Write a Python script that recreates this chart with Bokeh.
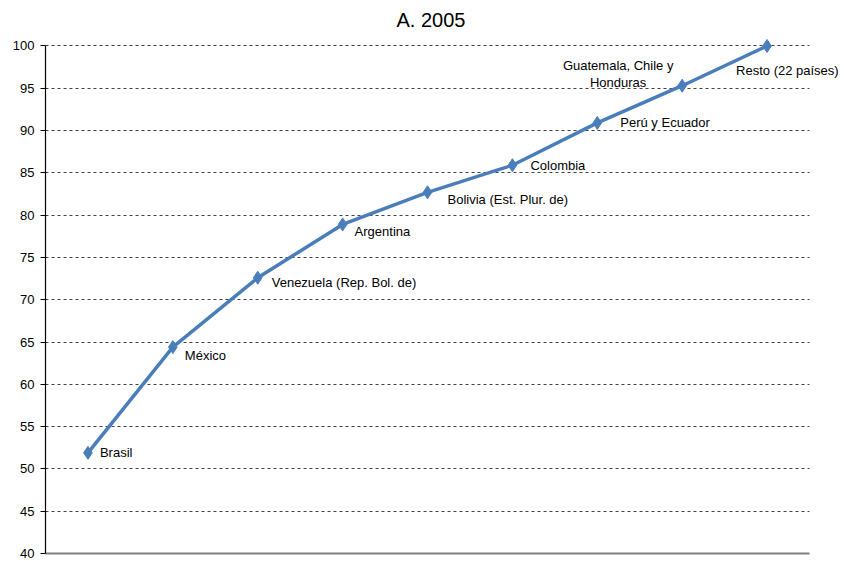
from bokeh.plotting import figure
from bokeh.models import ColumnDataSource, Label, Range1d, FixedTicker, SingleIntervalTicker
from bokeh.embed import file_html
from bokeh.resources import INLINE

countries = ["Brasil", "México", "Venezuela (Rep. Bol. de)", "Argentina",
             "Bolivia (Est. Plur. de)", "Colombia", "Perú y Ecuador",
             "Guatemala, Chile y\nHonduras", "Resto (22 países)"]
cumulative = [51.9, 64.4, 72.6, 78.9, 82.7, 85.9, 90.9, 95.3, 100.0]

# label styling (screen offsets)
lab_dx = [12, 12, 14, 12, 20, 18, 23, -64, -31]
lab_dy = [0, -8, -5, -7, -7, 0, 0, 12, -25]
lab_align = ["left"] * 7 + ["center", "left"]

FONT = "Liberation Sans"
LINE = "#4a7ebb"

n = len(countries)
xpos = [i + 0.5 for i in range(n)]
src = ColumnDataSource(dict(x=xpos, y=cumulative))

p = figure(width=844, height=561, output_backend="svg", toolbar_location=None,
           x_range=Range1d(0, n + 0.365),
           y_range=Range1d(40, 101),
           title="A. 2005", min_border_left=45, min_border_right=4,
           min_border_top=10, min_border_bottom=8)
p.outline_line_color = None
p.background_fill_color = "white"
p.border_fill_color = "white"

p.title.align = "left"
p.title.offset = 351
p.title.text_font = FONT
p.title.text_font_size = "20px"
p.title.text_font_style = "normal"
p.title.text_color = "#000000"
p.title.standoff = 13

p.line("x", "y", source=src, line_color=LINE, line_width=3.5)
p.scatter("x", "y", source=src, marker="diamond", size=13,
          fill_color=LINE, line_color=LINE)

for xv, yv, txt, dx, dy, al in zip(xpos, cumulative, countries, lab_dx, lab_dy, lab_align):
    p.add_layout(Label(x=xv, y=yv, text=txt, x_offset=dx, y_offset=dy,
                       text_align=al, text_baseline="middle", text_font=FONT,
                       text_font_size="13px", text_color="#000000",
                       text_line_height=1.15))

p.yaxis.ticker = SingleIntervalTicker(interval=5)
p.yaxis.bounds = (40, 100)
p.yaxis.axis_line_color = "#000000"
p.yaxis.axis_line_width = 1.2
p.yaxis.major_tick_out = 5
p.yaxis.major_tick_in = 0
p.yaxis.minor_tick_line_color = None
p.yaxis.major_tick_line_color = "#000000"
p.yaxis.major_label_text_font = FONT
p.yaxis.major_label_text_font_size = "13px"
p.yaxis.major_label_text_color = "#000000"
p.yaxis.major_label_standoff = 6

p.xaxis.ticker = FixedTicker(ticks=[])
p.xaxis.bounds = (0, n)
p.xaxis.axis_line_color = "#808080"
p.xaxis.axis_line_width = 2
p.xaxis.major_tick_line_color = None
p.xaxis.minor_tick_line_color = None
p.xaxis.major_label_standoff = 0

p.xgrid.grid_line_color = None
p.ygrid.grid_line_color = "#404040"
p.ygrid.grid_line_dash = "3 3"
p.ygrid.grid_line_width = 1
p.ygrid.bounds = (45, 100)
p.ygrid.cross_bounds = (0, n)

open("out.html", "w").write(file_html(p, INLINE))
